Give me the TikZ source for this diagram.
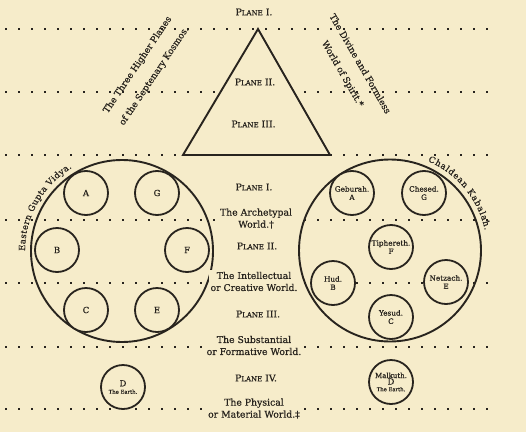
\documentclass[tikz,border=0pt]{standalone}
\usepackage{fontspec}
\setmainfont{DejaVu Serif}[FakeBold=0.6]
\usetikzlibrary{decorations.text}
\definecolor{paper}{RGB}{246,236,202}
\definecolor{ink}{RGB}{40,36,30}
\newcommand{\planelabel}[1]{P{\fontsize{7}{7}\selectfont LANE}\ #1}
\newcommand{\tinyearth}{{\fontsize{5.3}{6}\selectfont The Earth.}}
\begin{document}
\begin{tikzpicture}[x=1pt,y=1pt,
  dotline/.style={ink, line width=1.5pt, dash pattern=on 1.5pt off 11.5pt},
  bigc/.style={circle, draw=ink, line width=1.9pt, minimum size=182pt, inner sep=0pt},
  smallc/.style={circle, draw=ink, fill=paper, line width=1.8pt, minimum size=44pt, inner sep=0pt, align=center, text=ink, font=\fontsize{7.3}{8.3}\selectfont},
  letterc/.style={smallc, font=\fontsize{8.5}{9}\selectfont},
  lbl/.style={fill=paper, inner sep=2pt, align=center, text=ink, font=\fontsize{9.3}{12}\selectfont},
  pl/.style={inner sep=1pt, text=ink, font=\fontsize{9.3}{11}\selectfont},
  diag/.style={align=center, text=ink, font=\fontsize{9}{20}\selectfont}
]
\fill[paper] (0,0) rectangle (526,432);
\useasboundingbox (0,0) rectangle (526,432);

% dotted plane lines
\foreach \i/\y in {1/403,2/340,3/277,4/212,5/149,6/85,7/23} {
  \coordinate (dl\i a) at (5,\y);
  \coordinate (dl\i b) at (496,\y);
  \draw[dotline] (dl\i a) -- (dl\i b);
}

% triangle
\coordinate (tA) at (258,403);
\coordinate (tB) at (183,277);
\coordinate (tC) at (330,277);
\filldraw[fill=paper, draw=ink, line width=1.9pt, line join=miter] (tA) -- (tB) -- (tC) -- cycle;

\node[pl] (tp1) at (254,420) {\planelabel{I.}};
\node[pl] (tp2) at (255,350) {\planelabel{II.}};
\node[pl] (tp3) at (253.5,308) {\planelabel{III.}};

% diagonal texts
\node[diag, rotate=56] (three) at (146,361.5) {The Three Higher Planes\\of the Septenary Kosmos.};
\node[diag, rotate=-60] (divine) at (351,363) {The Divine and Formless\\World of Spirit.*};

% big circles
\node[bigc] (east) at (122,181) {};
\node[bigc] (chal) at (390,181.5) {};

\path[decorate, decoration={text along path, text color=ink, text align={fit to path},
  text={|\fontsize{8.5}{8.5}\selectfont|Eastern Gupta Vidya.}}]
  ([shift={(180:97)}]east.center) arc[start angle=180, end angle=121, radius=97];
\path[decorate, decoration={text along path, text color=ink, text align={fit to path},
  text={|\fontsize{8.5}{8.5}\selectfont|Chaldean Kabalah.}}]
  ([shift={(67:97)}]chal.center) arc[start angle=67, end angle=12, radius=97];

% left small circles
\node[letterc] (lA) at (86,239) {A};
\node[letterc] (lG) at (157,239) {G};
\node[letterc] (lB) at (57,182) {B};
\node[letterc] (lF) at (187,182) {F};
\node[letterc] (lC) at (86,122) {C};
\node[letterc] (lE) at (157,122) {E};
\node[smallc] (lD) at (123,45) {{\fontsize{8.5}{9}\selectfont D}\\[-1pt]\tinyearth};

% right small circles
\node[smallc] (rA) at (352,239) {Geburah.\\A};
\node[smallc] (rG) at (424,239) {Chesed.\\G};
\node[smallc] (rF) at (391,185) {Tiphereth.\\F};
\node[smallc] (rB) at (333,149) {Hud.\\B};
\node[smallc] (rE) at (446,150) {Netzach.\\E};
\node[smallc] (rC) at (391,115) {Yesud.\\C};
\node[smallc, font=\fontsize{7}{7.6}\selectfont] (rD) at (391,50) {Malkuth.\\[-1pt]{\fontsize{8.5}{9}\selectfont D}\\[-1pt]\tinyearth};

% central column
\node[pl] (c1) at (254,245) {\planelabel{I.}};
\node[lbl] (arch) at (256,213.5) {The Archetypal\\World.†};
\node[pl] (c2) at (257,186) {\planelabel{II.}};
\node[lbl] (intel) at (254,150.5) {The Intellectual\\or Creative World.};
\node[pl] (c3) at (258,118) {\planelabel{III.}};
\node[lbl] (subst) at (254,86.5) {The Substantial\\or Formative World.};
\node[pl] (c4) at (256,54) {\planelabel{IV.}};
\node[lbl] (phys) at (254,23.5) {The Physical\\or Material World.‡};
\end{tikzpicture}
\end{document}
